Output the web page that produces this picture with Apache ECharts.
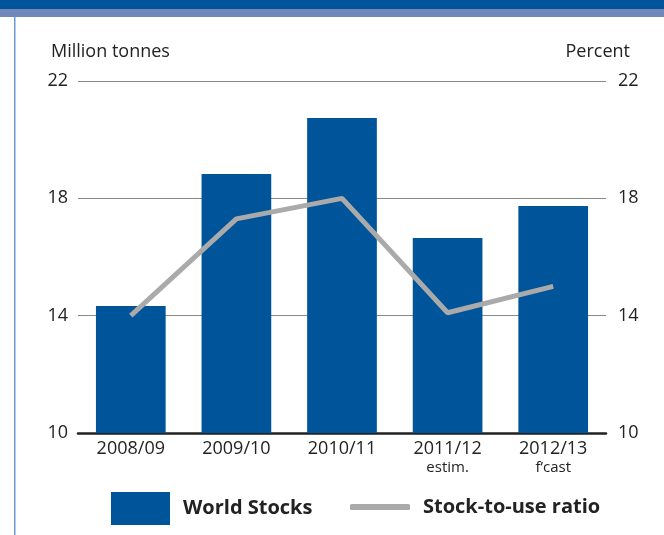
<!DOCTYPE html>
<html><head><meta charset="utf-8">
<script src="https://cdn.jsdelivr.net/npm/echarts@6/dist/echarts.min.js"></script>
<style>html,body{margin:0;padding:0;background:#fff}#c{width:664px;height:535px}</style>
</head><body><div id="c"></div>
<script>
const categories = ['2008/09','2009/10','2010/11','2011/12','2012/13'];
const subLabels = ['', '', '', 'estim.', 'f\u2019cast'];
const worldStocks = [14.33, 18.83, 20.74, 16.65, 17.74];
const stockToUse = [14.0, 17.3, 18.0, 14.1, 15.0];
const yTicks = [10, 14, 18, 22];

const font = 'Open Sans';
const chart = echarts.init(document.getElementById('c'));
chart.setOption({
  animation: false,
  textStyle: {fontFamily: font},
  graphic: [
    {type:'rect', shape:{x:0,y:0,width:664,height:9}, style:{fill:'#00559a'}},
    {type:'rect', shape:{x:0,y:9,width:664,height:8}, style:{fill:'#7088ba'}},
    {type:'rect', shape:{x:14,y:17,width:1.5,height:518}, style:{fill:'#6a9ad0'}}
  ],
  title: [
    {text:'Million tonnes', left:46, top:38, textStyle:{fontFamily:font, fontSize:18, fontWeight:'normal', color:'#222'}},
    {text:'Percent', right:29, top:38, textStyle:{fontFamily:font, fontSize:18, fontWeight:'normal', color:'#222'}}
  ],
  grid: {left:78, right:58, top:81, bottom:102},
  xAxis: {
    type:'category', data: categories,
    axisLine:{lineStyle:{color:'#222', width:2.5}},
    axisTick:{show:false},
    axisLabel:{
      margin:6,
      formatter: function(v, i){ return subLabels[i] ? '{a|'+v+'}\n{b|'+subLabels[i]+'}' : '{a|'+v+'}'; },
      rich:{
        a:{fontFamily:font, fontSize:18, color:'#222', lineHeight:20},
        b:{fontFamily:font, fontSize:15, color:'#222', lineHeight:17}
      },
      verticalAlign:'top'
    }
  },
  yAxis: [
    {type:'value', min:yTicks[0], max:yTicks[yTicks.length-1], interval:4,
     axisLine:{show:false}, axisTick:{show:false},
     axisLabel:{margin:10, fontFamily:font, fontSize:18, color:'#222'},
     splitLine:{lineStyle:{color:'#8a8a8a', width:1}}},
    {type:'value', min:yTicks[0], max:yTicks[yTicks.length-1], interval:4, position:'right',
     axisLine:{show:false}, axisTick:{show:false},
     axisLabel:{margin:12, fontFamily:font, fontSize:18, color:'#222'},
     splitLine:{show:false}}
  ],
  legend: [
    {data:[{name:'World Stocks', icon:'rect'}], left:106, top:487, itemWidth:59, itemHeight:33, itemGap:10,
     textStyle:{fontFamily:font, fontSize:20, fontWeight:'bold', color:'#222', padding:[0,0,0,8]}},
    {data:[{name:'Stock-to-use ratio', icon:'roundRect'}], left:345, top:492, itemWidth:60, itemHeight:6,
     itemStyle:{color:'#aaaaaa'},
     textStyle:{fontFamily:font, fontSize:20, fontWeight:'bold', color:'#222', padding:[0,0,0,8]}}
  ],
  series: [
    {name:'World Stocks', type:'bar', data: worldStocks, barWidth:'66%',
     itemStyle:{color:'#00559a'}},
    {name:'Stock-to-use ratio', type:'line', yAxisIndex:1, data: stockToUse,
     symbol:'none', lineStyle:{color:'#aaaaaa', width:5}, itemStyle:{color:'#aaaaaa'}}
  ]
});
</script></body></html>
